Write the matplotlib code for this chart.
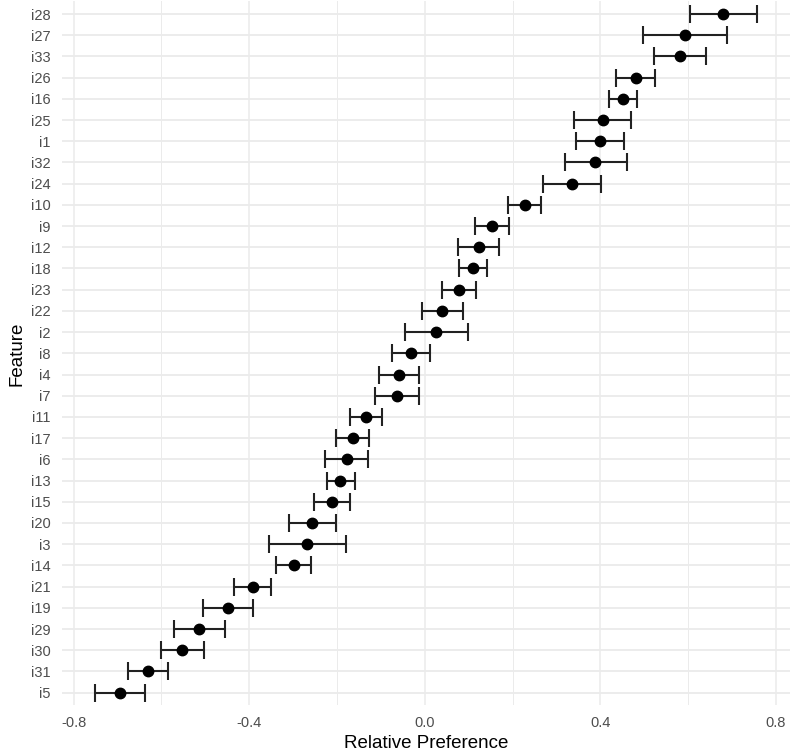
import matplotlib
matplotlib.use("Agg")
import matplotlib.pyplot as plt
import numpy as np

# Features listed bottom -> top
features = ["i5", "i31", "i30", "i29", "i19", "i21", "i14", "i3", "i20", "i15",
            "i13", "i6", "i17", "i11", "i7", "i4", "i8", "i2", "i22", "i23",
            "i18", "i12", "i9", "i10", "i24", "i32", "i1", "i25", "i16", "i26",
            "i33", "i27", "i28"]
estimate = [-0.695, -0.631, -0.553, -0.514, -0.448, -0.392, -0.298, -0.268, -0.256, -0.212,
            -0.192, -0.178, -0.164, -0.134, -0.063, -0.058, -0.031, 0.026, 0.040, 0.078,
            0.109, 0.123, 0.154, 0.228, 0.335, 0.389, 0.399, 0.406, 0.452, 0.481,
            0.581, 0.593, 0.680]
lower = [-0.751, -0.677, -0.601, -0.572, -0.505, -0.434, -0.338, -0.354, -0.310, -0.252,
         -0.223, -0.227, -0.202, -0.171, -0.114, -0.104, -0.075, -0.044, -0.007, 0.040,
         0.078, 0.075, 0.114, 0.190, 0.270, 0.319, 0.345, 0.341, 0.419, 0.435,
         0.522, 0.498, 0.604]
upper = [-0.638, -0.584, -0.503, -0.456, -0.392, -0.349, -0.258, -0.179, -0.202, -0.171,
         -0.158, -0.130, -0.127, -0.097, -0.014, -0.014, 0.011, 0.099, 0.087, 0.117,
         0.142, 0.169, 0.193, 0.266, 0.401, 0.460, 0.455, 0.471, 0.484, 0.525,
         0.641, 0.688, 0.756]
xticks = [-0.8, -0.4, 0.0, 0.4, 0.8]
xtick_labels = ["-0.8", "-0.4", "0.0", "0.4", "0.8"]
minor_xticks = [-0.6, -0.2, 0.2, 0.6]

plt.rcParams['font.family'] = ['Liberation Sans', 'DejaVu Sans']

fig = plt.figure(figsize=(7.9, 7.54), dpi=100)
ax = fig.add_axes([0.0786, 0.0645, 0.9208, 0.9338])

y = np.arange(len(features))
est = np.array(estimate)
lo = np.array(lower)
hi = np.array(upper)

ax.errorbar(est, y, xerr=[est - lo, hi - est], fmt='none', ecolor='#222222',
            elinewidth=1.5, capsize=6.8, capthick=1.5, zorder=3)
ax.plot(est, y, 'o', color='black', markersize=7.5, zorder=4)

ax.set_xlim(-0.826, 0.831)
ax.set_ylim(-0.6, len(features) - 0.4)
ax.set_yticks(y)
ax.set_yticklabels(features)
ax.set_xticks(xticks)
ax.set_xticklabels(xtick_labels)
ax.set_xticks(minor_xticks, minor=True)

ax.grid(True, which='major', axis='x', color='#EBEBEB', linewidth=1.1, zorder=0)
ax.grid(True, which='minor', axis='x', color='#EBEBEB', linewidth=0.7, zorder=0)
ax.grid(True, which='major', axis='y', color='#EBEBEB', linewidth=1.3, zorder=0)
ax.set_axisbelow(True)

for s in ax.spines.values():
    s.set_visible(False)
ax.tick_params(axis='both', which='both', length=0)
ax.tick_params(axis='y', labelsize=10.5, labelcolor='#4D4D4D', pad=8)
ax.tick_params(axis='x', labelsize=10.5, labelcolor='#4D4D4D', pad=8)

ax.set_xlabel("Relative Preference", fontsize=13.5, color='black', labelpad=3)
ax.set_ylabel("Feature", fontsize=13.5, color='black', labelpad=4)

fig.savefig("out.png", dpi=100)
